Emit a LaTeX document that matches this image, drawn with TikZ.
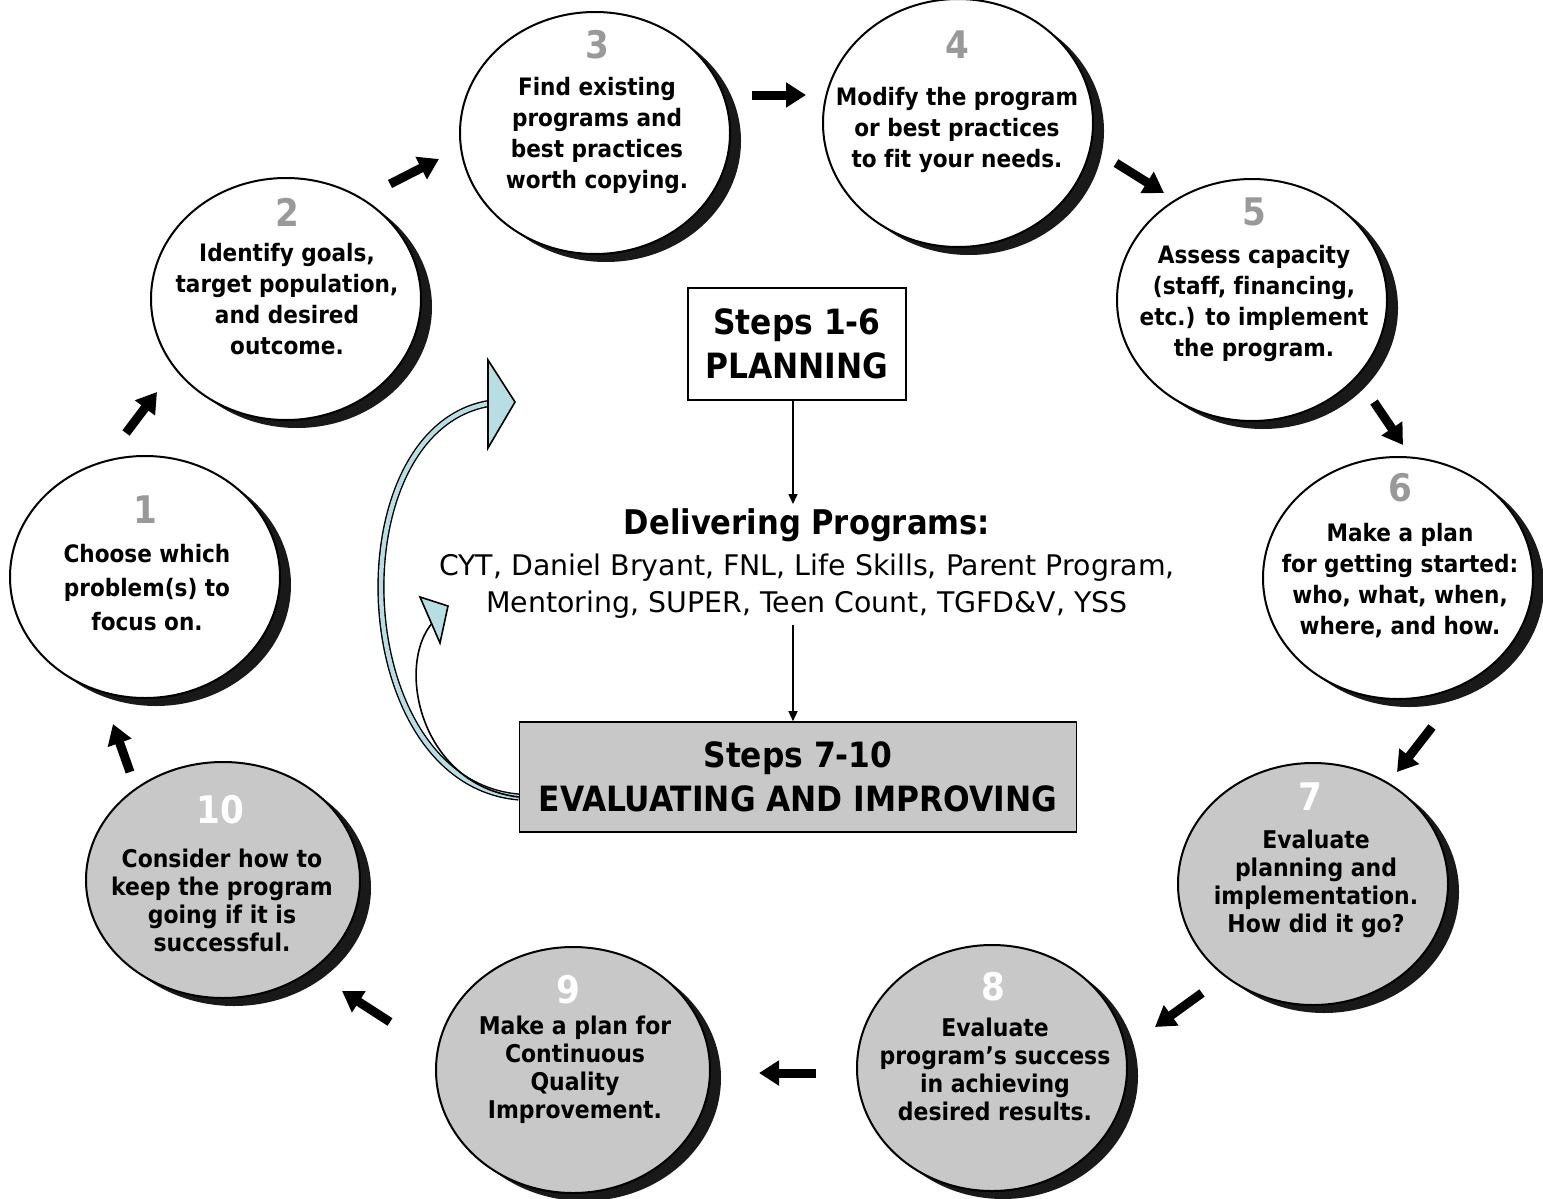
\documentclass[tikz,border=0pt]{standalone}
\usepackage{fontspec}
\setmainfont[Ligatures=NoCommon]{DejaVu Sans Condensed}
\newfontfamily\regfont[Ligatures=NoCommon]{DejaVu Sans}
\usetikzlibrary{shapes.geometric,arrows.meta,shadows}
\definecolor{cgray}{HTML}{C8C8C8}
\definecolor{numgray}{HTML}{999999}
\definecolor{lblue}{HTML}{B7DEE2}
\begin{document}
\begin{tikzpicture}[x=0.5pt,y=-0.5pt,
  circ/.style={ellipse, draw=black, line width=1pt, fill=white, inner sep=0pt,
    minimum width=135pt, minimum height=121pt,
    drop shadow={shadow xshift=5.5pt, shadow yshift=-4pt, opacity=1, fill=black!90}},
  gcirc/.style={circ, fill=cgray},
  num/.style={font=\bfseries\fontsize{19}{19}\selectfont, text=numgray, inner sep=0pt},
  wnum/.style={num, text=white},
  ctext/.style={font=\bfseries\fontsize{12}{15.5}\selectfont, align=center, inner sep=0pt},
  gtext/.style={font=\bfseries\fontsize{12.2}{14}\selectfont, align=center, inner sep=0pt},
  blk/.style={line width=4.5pt, -{Triangle[length=10pt,width=12pt]}},
  tarr/.style={line width=0.7pt, -{Triangle[length=5pt,width=4.5pt]}},
  bigbox/.style={draw, line width=0.8pt, align=center, font=\bfseries\fontsize{17.4}{22}\selectfont},
  headst/.style={fill=lblue, draw=black, line width=0.8pt, line join=miter}
]
\useasboundingbox (0,0) rectangle (1543,1199);

% circles
\node[circ] (c1) at (145,577) {};
\node[circ] (c2) at (286,299) {};
\node[circ] (c3) at (595,133) {};
\node[circ, minimum height=124pt] (c4) at (958,123) {};
\node[circ] (c5) at (1252,300) {};
\node[circ] (c6) at (1398,578) {};
\node[gcirc] (c7) at (1313,884) {};
\node[gcirc, minimum height=123pt] (c8) at (992,1068) {};
\node[gcirc, minimum width=137pt, minimum height=123pt] (c9) at (573,1070) {};
\node[gcirc, minimum width=137pt, minimum height=118pt] (c10) at (223,880) {};

% numbers
\node[num] (n1) at (145,510) {1};
\node[num] (n2) at (287,212) {2};
\node[num] (n3) at (597,45) {3};
\node[num] (n4) at (957,45) {4};
\node[num] (n5) at (1254,212) {5};
\node[num] (n6) at (1400,488) {6};
\node[wnum] (n7) at (1310,797) {7};
\node[wnum] (n8) at (993,987) {8};
\node[wnum] (n9) at (568,990) {9};
\node[wnum] (n10) at (220,810) {10};

% texts
\node[ctext, font=\bfseries\fontsize{12}{17}\selectfont] (t1) at (147,588) {Choose which\\problem(s) to\\focus on.};
\node[ctext] (t2) at (287,299) {Identify goals,\\target population,\\and desired\\outcome.};
\node[ctext] (t3) at (597,135) {Find existing\\programs and\\best practices\\worth copying.};
\node[ctext] (t4) at (957,130) {Modify the program\\or best practices\\to fit your needs.};
\node[ctext] (t5) at (1254,303) {Assess capacity\\(staff, financing,\\etc.) to implement\\the program.};
\node[ctext] (t6) at (1400,581) {Make a plan\\for getting started:\\who, what, when,\\where, and how.};
\node[gtext] (t7) at (1316,884) {Evaluate\\planning and\\implementation.\\How did it go?};
\node[gtext] (t8) at (995,1069) {Evaluate\\program’s success\\in achieving\\desired results.};
\node[gtext] (t9) at (575,1070) {Make a plan for\\Continuous\\Quality\\Improvement.};
\node[gtext] (t10) at (222,900) {Consider how to\\keep the program\\going if it is\\successful.};

% step arrows
\coordinate (a1s) at (126,433); \coordinate (a1e) at (157,392);
\coordinate (a2s) at (390,184); \coordinate (a2e) at (439,159);
\coordinate (a3s) at (752,95);  \coordinate (a3e) at (806,95);
\coordinate (a4s) at (1116,163); \coordinate (a4e) at (1164,193);
\coordinate (a5s) at (1374,402); \coordinate (a5e) at (1403,445);
\coordinate (a6s) at (1432,727); \coordinate (a6e) at (1397,772);
\coordinate (a7s) at (1202,993); \coordinate (a7e) at (1155,1027);
\coordinate (a8s) at (816,1073); \coordinate (a8e) at (759,1073);
\coordinate (a9s) at (390,1022); \coordinate (a9e) at (342,991);
\coordinate (a10s) at (130,772); \coordinate (a10e) at (113,724);
\foreach \i in {1,...,10} { \draw[blk] (a\i s) -- (a\i e); }

% centre
\node[bigbox, fill=white, minimum width=109pt, minimum height=56pt] (plan) at (797,344) {Steps 1-6\\PLANNING};
\node[font=\bfseries\fontsize{17}{20}\selectfont, inner sep=2pt] (deliv) at (807,525) {Delivering Programs:};
\node[font=\regfont\fontsize{14.2}{18.5}\selectfont, align=center, inner sep=3pt] (list) at (807,586) {CYT, Daniel Bryant, FNL, Life Skills, Parent Program,\\Mentoring, SUPER, Teen Count, TGFD\&V, YSS};
\node[bigbox, fill=cgray, minimum width=278.5pt, minimum height=55pt] (evalbox) at (798,777) {Steps 7-10\\EVALUATING AND IMPROVING};

\draw[tarr] ([xshift=-2pt]plan.south) -- ([xshift=-2pt]plan.south |- deliv.north);
\draw[tarr] ([xshift=-2pt]plan.south |- list.south) -- ([xshift=-2pt]plan.south |- evalbox.north);

% curved feedback arrows
\draw[line width=0.7pt, double=lblue, double distance=2.2pt] ([yshift=-10pt]evalbox.west) .. controls (345,782) and (335,425) .. (492,403);
\draw[headst] (488,360) -- (515,402) -- (488,448) -- cycle;
\draw[line width=0.8pt] ([yshift=-10pt]evalbox.west) .. controls (420,785) and (395,665) .. (433,622);
\draw[headst] (420,597) -- (448,606) -- (440,643) -- cycle;
\end{tikzpicture}
\end{document}
